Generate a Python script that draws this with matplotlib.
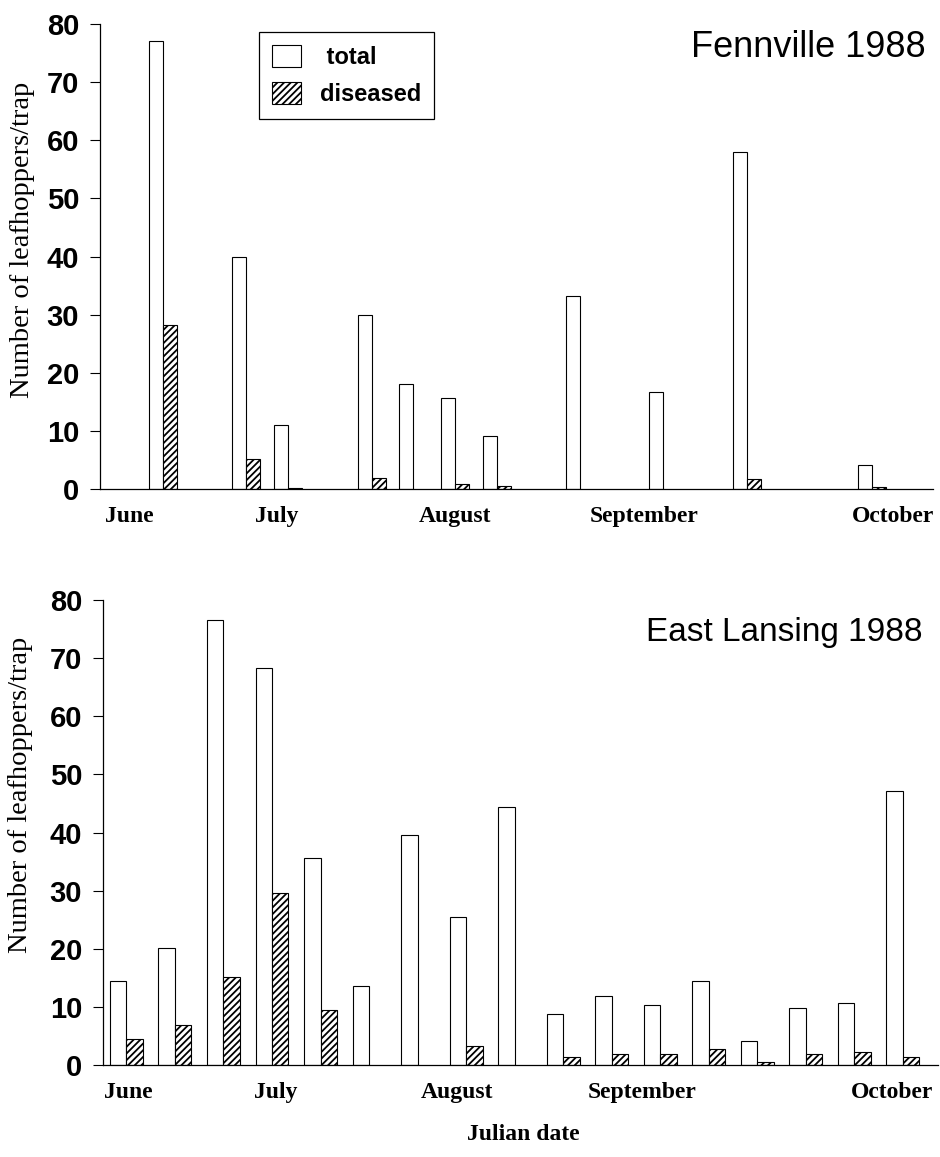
import matplotlib
matplotlib.use("Agg")
import matplotlib.pyplot as plt
import numpy as np

plt.rcParams["hatch.linewidth"] = 1.3

# Fennville 1988 (weekly trap samples, index = week from first sample)
fen_week = [0, 2, 3, 5, 6, 7, 8, 10, 12, 14, 17]
fen_total = [77, 40, 11, 30, 18, 15.7, 9.2, 33.2, 16.7, 57.9, 4.2]
fen_diseased = [28.2, 5.2, 0.2, 1.9, 0, 0.9, 0.5, 0, 0, 1.8, 0.4]
fen_month_pos = [-0.48, 3.07, 7.34, 11.87, 17.84]

# East Lansing 1988
el_week = list(range(17))
el_total = [14.5, 20.2, 76.6, 68.3, 35.6, 13.6, 39.6, 25.5, 44.4,
            8.8, 11.8, 10.4, 14.5, 4.2, 9.8, 10.6, 47.1]
el_diseased = [4.4, 6.8, 15.2, 29.6, 9.4, 0, 0, 3.3, 0,
               1.3, 1.9, 1.9, 2.7, 0.5, 1.9, 2.3, 1.3]
el_month_pos = [0.37, 3.42, 7.15, 10.97, 16.12]

months = ["June", "July", "August", "September", "October"]
yticks = [0, 10, 20, 30, 40, 50, 60, 70, 80]

sans = "Liberation Sans"
serif = "Liberation Serif"

fig = plt.figure(figsize=(9.4, 11.57), dpi=100)
ax1 = fig.add_axes([100 / 940, 1 - 489 / 1157, 833 / 940, 465 / 1157])
ax2 = fig.add_axes([103 / 940, 1 - 1065 / 1157, 835 / 940, 465 / 1157])


def draw_panel(ax, week, total, diseased, month_pos, xlim, width, title, title_xy, title_size):
    week = np.array(week, dtype=float)
    ax.bar(week, total, width=width, align="edge", color="white",
           edgecolor="black", linewidth=0.8, label=" total")
    dis = np.array(diseased)
    keep = dis > 0
    ax.bar(week[keep] + width, dis[keep], width=width, align="edge",
           color="white", edgecolor="black", hatch="/////", linewidth=0.8,
           label="diseased")

    ax.set_xlim(*xlim)
    ax.set_ylim(0, 80)
    ax.spines["top"].set_visible(False)
    ax.spines["right"].set_visible(False)
    ax.spines["left"].set_linewidth(0.9)
    ax.spines["bottom"].set_linewidth(0.9)

    ax.set_yticks(yticks)
    ax.set_yticklabels([str(t) for t in yticks], fontfamily=sans,
                       fontweight="bold", fontsize=21)
    ax.tick_params(axis="y", length=7, width=0.8, pad=8)

    ax.set_xticks(month_pos)
    ax.set_xticklabels(months, fontfamily=serif, fontweight="bold", fontsize=17)
    ax.tick_params(axis="x", length=0, pad=12)

    ax.set_ylabel("Number of leafhoppers/trap", fontfamily=serif, fontsize=20.5)

    ax.text(title_xy[0], title_xy[1], title, transform=ax.transAxes,
            ha="right", va="center", fontfamily=sans, fontsize=title_size)


draw_panel(ax1, fen_week, fen_total, fen_diseased, fen_month_pos,
           (-1.175, 18.8), 0.336, "Fennville 1988", (0.9916, 0.9505), 26)
ax1.yaxis.set_label_coords(-0.078, 0.535)

draw_panel(ax2, el_week, el_total, el_diseased, el_month_pos,
           (-0.144, 17.07), 0.34, "East Lansing 1988", (0.981, 0.931), 24)
ax2.yaxis.set_label_coords(-0.084, 0.58)

leg = ax1.legend(loc="upper left", bbox_to_anchor=(0.191, 0.983),
                 borderaxespad=0, fancybox=False, framealpha=1,
                 edgecolor="black", handlelength=1.23, handleheight=1.06,
                 handletextpad=0.8, labelspacing=0.55, borderpad=0.55,
                 prop={"family": sans, "weight": "bold", "size": 17})
leg.get_frame().set_linewidth(0.9)

fig.text(523 / 940, 1 - 1134 / 1157, "Julian date", ha="center", va="center",
         fontfamily=serif, fontweight="bold", fontsize=17)

fig.savefig("out.png", dpi=100)
